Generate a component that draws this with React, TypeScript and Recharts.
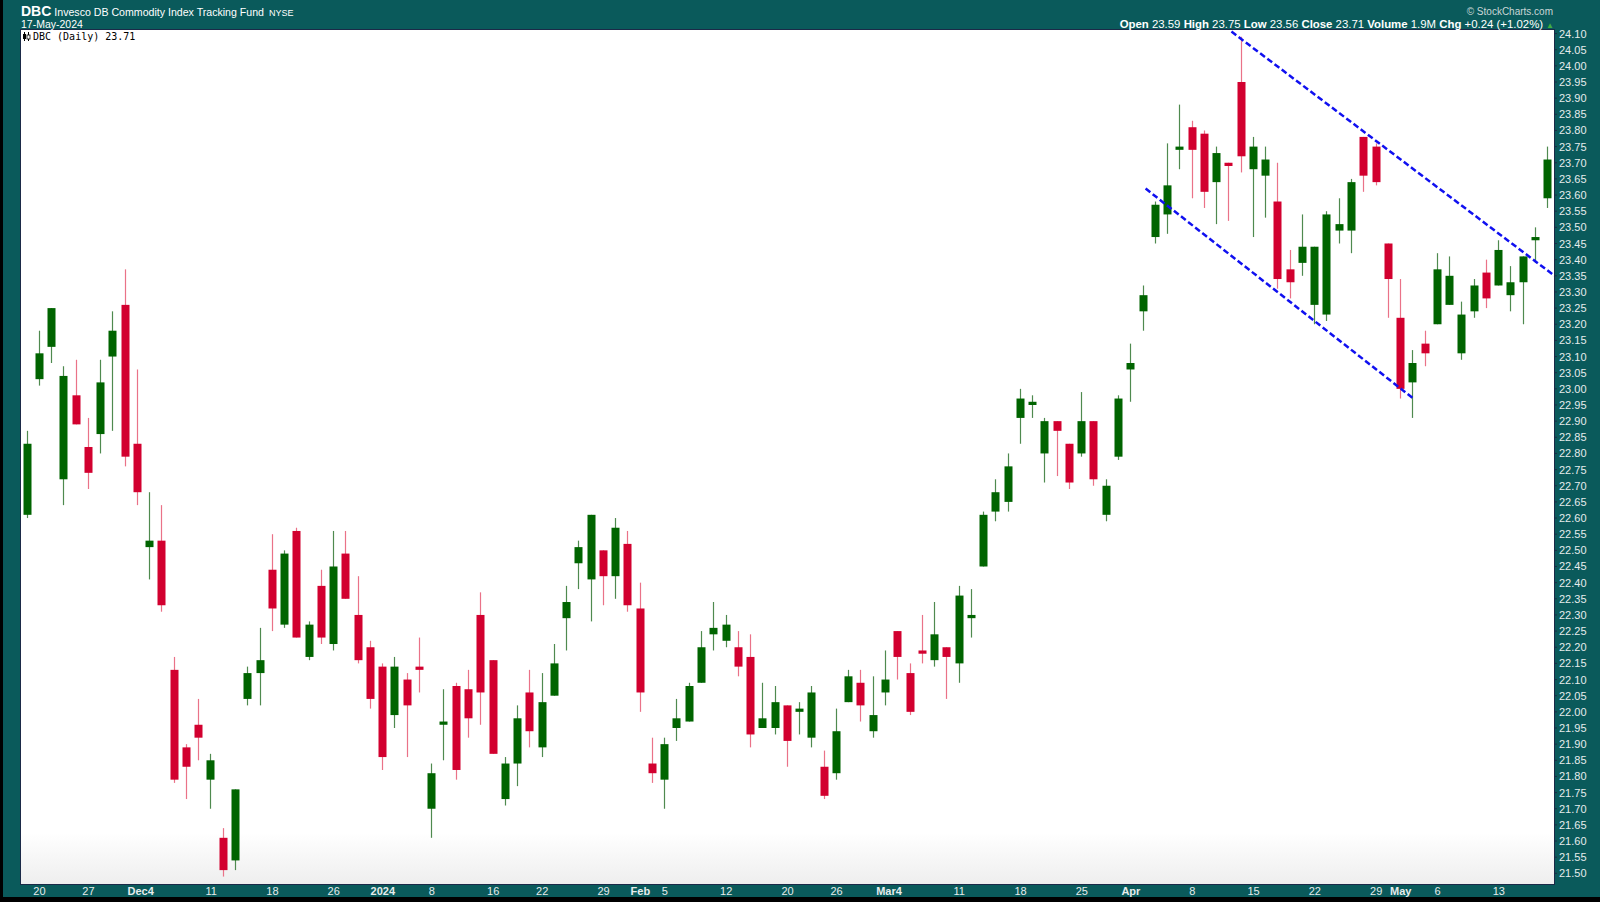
import React from "react";
import { Bar, ComposedChart, ReferenceLine, XAxis, YAxis } from "recharts";

// DBC daily candles, 17-Nov-2023 .. 17-May-2024
const DAYS = [
  "2023-11-17", "2023-11-20", "2023-11-21", "2023-11-22", "2023-11-24", "2023-11-27", "2023-11-28", "2023-11-29", "2023-11-30",
  "2023-12-01", "2023-12-04", "2023-12-05", "2023-12-06", "2023-12-07", "2023-12-08", "2023-12-11", "2023-12-12", "2023-12-13",
  "2023-12-14", "2023-12-15", "2023-12-18", "2023-12-19", "2023-12-20", "2023-12-21", "2023-12-22", "2023-12-26", "2023-12-27",
  "2023-12-28", "2023-12-29", "2024-01-02", "2024-01-03", "2024-01-04", "2024-01-05", "2024-01-08", "2024-01-09", "2024-01-10",
  "2024-01-11", "2024-01-12", "2024-01-16", "2024-01-17", "2024-01-18", "2024-01-19", "2024-01-22", "2024-01-23", "2024-01-24",
  "2024-01-25", "2024-01-26", "2024-01-29", "2024-01-30", "2024-01-31", "2024-02-01", "2024-02-02", "2024-02-05", "2024-02-06",
  "2024-02-07", "2024-02-08", "2024-02-09", "2024-02-12", "2024-02-13", "2024-02-14", "2024-02-15", "2024-02-16", "2024-02-20",
  "2024-02-21", "2024-02-22", "2024-02-23", "2024-02-26", "2024-02-27", "2024-02-28", "2024-02-29", "2024-03-01", "2024-03-04",
  "2024-03-05", "2024-03-06", "2024-03-07", "2024-03-08", "2024-03-11", "2024-03-12", "2024-03-13", "2024-03-14", "2024-03-15",
  "2024-03-18", "2024-03-19", "2024-03-20", "2024-03-21", "2024-03-22", "2024-03-25", "2024-03-26", "2024-03-27", "2024-03-28",
  "2024-04-01", "2024-04-02", "2024-04-03", "2024-04-04", "2024-04-05", "2024-04-08", "2024-04-09", "2024-04-10", "2024-04-11",
  "2024-04-12", "2024-04-15", "2024-04-16", "2024-04-17", "2024-04-18", "2024-04-19", "2024-04-22", "2024-04-23", "2024-04-24",
  "2024-04-25", "2024-04-26", "2024-04-29", "2024-04-30", "2024-05-01", "2024-05-02", "2024-05-03", "2024-05-06", "2024-05-07",
  "2024-05-08", "2024-05-09", "2024-05-10", "2024-05-13", "2024-05-14", "2024-05-15", "2024-05-16", "2024-05-17",
];

const OPEN = [
  22.61, 23.03, 23.13, 22.72, 22.98, 22.82, 22.86, 23.10, 23.26,
  22.83, 22.51, 22.53, 22.13, 21.89, 21.96, 21.79, 21.61, 21.54,
  22.04, 22.12, 22.44, 22.27, 22.56, 22.17, 22.39, 22.21, 22.49,
  22.30, 22.20, 22.14, 21.99, 22.10, 22.14, 21.70, 21.96, 22.08,
  22.07, 22.30, 22.16, 21.73, 21.84, 22.06, 21.89, 22.05, 22.29,
  22.46, 22.41, 22.50, 22.42, 22.52, 22.32, 21.84, 21.79, 21.95,
  21.97, 22.09, 22.24, 22.22, 22.20, 22.17, 21.95, 21.95, 22.02,
  22.00, 21.92, 21.83, 21.81, 22.03, 22.09, 21.94, 22.06, 22.25,
  22.12, 22.19, 22.16, 22.20, 22.15, 22.29, 22.45, 22.62, 22.65,
  22.91, 22.95, 22.80, 22.90, 22.83, 22.80, 22.90, 22.61, 22.79,
  23.06, 23.24, 23.47, 23.54, 23.74, 23.81, 23.79, 23.64, 23.70,
  23.95, 23.68, 23.66, 23.58, 23.37, 23.39, 23.26, 23.23, 23.49,
  23.49, 23.78, 23.75, 23.45, 23.22, 23.02, 23.14, 23.20, 23.26,
  23.11, 23.24, 23.36, 23.32, 23.29, 23.33, 23.46, 23.59,
];

const HIGH = [
  22.87, 23.18, 23.25, 23.07, 23.09, 22.91, 23.09, 23.24, 23.37,
  23.06, 22.68, 22.64, 22.17, 21.90, 22.04, 21.87, 21.64, 21.76,
  22.14, 22.26, 22.55, 22.50, 22.57, 22.28, 22.44, 22.56, 22.56,
  22.42, 22.22, 22.15, 22.17, 22.12, 22.23, 21.84, 22.07, 22.09,
  22.13, 22.37, 22.16, 21.86, 22.02, 22.13, 22.12, 22.21, 22.39,
  22.53, 22.61, 22.50, 22.60, 22.56, 22.40, 21.92, 21.92, 22.04,
  22.09, 22.25, 22.34, 22.30, 22.25, 22.24, 22.09, 22.08, 22.02,
  22.03, 22.08, 21.88, 22.01, 22.13, 22.13, 22.11, 22.19, 22.25,
  22.15, 22.30, 22.34, 22.20, 22.39, 22.38, 22.62, 22.72, 22.80,
  23.00, 22.98, 22.91, 22.90, 22.83, 22.99, 22.90, 22.72, 22.98,
  23.14, 23.32, 23.58, 23.76, 23.88, 23.83, 23.80, 23.75, 23.70,
  24.09, 23.78, 23.75, 23.70, 23.43, 23.54, 23.44, 23.55, 23.59,
  23.65, 23.78, 23.76, 23.45, 23.34, 23.12, 23.18, 23.42, 23.41,
  23.27, 23.34, 23.40, 23.46, 23.38, 23.41, 23.50, 23.75,
];

const LOW = [
  22.60, 23.01, 23.08, 22.64, 22.89, 22.69, 22.80, 22.87, 22.76,
  22.64, 22.41, 22.31, 21.78, 21.73, 21.85, 21.70, 21.49, 21.51,
  22.02, 22.02, 22.25, 22.26, 22.23, 22.16, 22.21, 22.19, 22.35,
  22.15, 22.01, 21.82, 21.95, 21.86, 22.06, 21.61, 21.85, 21.79,
  21.92, 21.96, 21.87, 21.71, 21.77, 21.89, 21.86, 22.05, 22.19,
  22.38, 22.28, 22.33, 22.35, 22.31, 22.00, 21.78, 21.70, 21.91,
  21.97, 22.09, 22.19, 22.20, 22.11, 21.89, 21.95, 21.93, 21.83,
  21.93, 21.89, 21.73, 21.79, 22.03, 21.97, 21.92, 22.02, 22.10,
  21.99, 22.15, 22.14, 22.04, 22.09, 22.23, 22.45, 22.59, 22.62,
  22.83, 22.91, 22.71, 22.73, 22.69, 22.79, 22.70, 22.59, 22.78,
  22.96, 23.18, 23.45, 23.48, 23.68, 23.59, 23.56, 23.51, 23.52,
  23.67, 23.47, 23.53, 23.31, 23.28, 23.35, 23.20, 23.21, 23.45,
  23.42, 23.61, 23.63, 23.22, 22.97, 22.91, 23.07, 23.20, 23.26,
  23.09, 23.22, 23.25, 23.32, 23.24, 23.20, 23.39, 23.56,
];

const CLOSE = [
  22.83, 23.11, 23.25, 23.04, 22.89, 22.74, 23.02, 23.18, 22.79,
  22.68, 22.53, 22.33, 21.79, 21.83, 21.92, 21.85, 21.51, 21.76,
  22.12, 22.16, 22.32, 22.49, 22.23, 22.27, 22.23, 22.45, 22.35,
  22.16, 22.04, 21.86, 22.14, 22.02, 22.13, 21.81, 21.97, 21.82,
  21.98, 22.06, 21.87, 21.84, 21.98, 21.94, 22.03, 22.15, 22.34,
  22.51, 22.61, 22.42, 22.57, 22.33, 22.06, 21.81, 21.90, 21.98,
  22.08, 22.20, 22.26, 22.27, 22.14, 21.93, 21.98, 22.03, 21.91,
  22.01, 22.06, 21.74, 21.94, 22.11, 22.02, 21.99, 22.10, 22.17,
  22.00, 22.18, 22.24, 22.17, 22.36, 22.30, 22.61, 22.68, 22.76,
  22.97, 22.96, 22.90, 22.87, 22.71, 22.90, 22.72, 22.70, 22.97,
  23.08, 23.29, 23.57, 23.63, 23.75, 23.74, 23.61, 23.73, 23.69,
  23.72, 23.75, 23.71, 23.34, 23.33, 23.44, 23.44, 23.54, 23.51,
  23.64, 23.66, 23.64, 23.34, 23.00, 23.08, 23.11, 23.37, 23.35,
  23.23, 23.32, 23.28, 23.43, 23.33, 23.41, 23.47, 23.71,
];

// bottom axis labels
const TICK_DAYS = [
  "2023-11-20", "2023-11-27", "2023-12-04", "2023-12-11", "2023-12-18", "2023-12-26", "2024-01-02", "2024-01-08",
  "2024-01-16", "2024-01-22", "2024-01-29", "2024-02-01", "2024-02-05", "2024-02-12", "2024-02-20", "2024-02-26",
  "2024-03-04", "2024-03-11", "2024-03-18", "2024-03-25", "2024-04-01", "2024-04-08", "2024-04-15", "2024-04-22",
  "2024-04-29", "2024-05-01", "2024-05-06", "2024-05-13",
];
const TICK_LABELS = [
  "20", "27", "Dec4", "11", "18", "26", "2024", "8",
  "16", "22", "29", "Feb", "5", "12", "20", "26",
  "Mar4", "11", "18", "25", "Apr", "8", "15", "22",
  "29", "May", "6", "13",
];
const BOLD_LABELS = ["Dec4", "2024", "Feb", "Mar4", "Apr", "May"];

const PRICE_TICKS = [
  21.5, 21.55, 21.6, 21.65, 21.7, 21.75, 21.8, 21.85, 21.9, 21.95,
  22.0, 22.05, 22.1, 22.15, 22.2, 22.25, 22.3, 22.35, 22.4, 22.45,
  22.5, 22.55, 22.6, 22.65, 22.7, 22.75, 22.8, 22.85, 22.9, 22.95,
  23.0, 23.05, 23.1, 23.15, 23.2, 23.25, 23.3, 23.35, 23.4, 23.45,
  23.5, 23.55, 23.6, 23.65, 23.7, 23.75, 23.8, 23.85, 23.9, 23.95,
  24.0, 24.05, 24.1,
];

// channel lines, [bar index, price]
const UPPER_CHANNEL = [
  { x: 98.2, y: 24.106 },
  { x: 125, y: 23.337 },
];
const LOWER_CHANNEL = [
  { x: 91.2, y: 23.62 },
  { x: 113.0, y: 22.971 },
];

const TEAL = "#0a5a5b";
const UP = "#006400";
const DOWN = "#d2002f";
const FONT = '"Liberation Sans", Arial, sans-serif';

const rows = DAYS.map((day, i) => ({
  i,
  day,
  open: OPEN[i],
  high: HIGH[i],
  low: LOW[i],
  close: CLOSE[i],
  range: [LOW[i], HIGH[i]],
}));

function Candle(props: any) {
  const { x, y, width, height, payload } = props;
  if (!payload || height == null) return null;
  const top = Math.min(y, y + height);
  const h = Math.abs(height);
  const span = payload.high - payload.low || 1;
  const toY = (p: number) => top + ((payload.high - p) / span) * h;
  const up = payload.close >= payload.open;
  const yo = toY(payload.open);
  const yc = toY(payload.close);
  const bodyH = Math.max(Math.abs(yc - yo), 2);
  const bodyTop = Math.min(yo, yc);
  const cx = Math.floor(x + width / 2) + 0.5;
  return (
    <g>
      <line x1={cx} x2={cx} y1={top} y2={top + h} stroke={up ? "#4f8a4f" : "#ea7288"} strokeWidth={1.2} />
      <rect x={cx - 4} y={bodyTop} width={8} height={bodyH} fill={up ? UP : DOWN} />
    </g>
  );
}

function DayTick(props: any) {
  const { x, y, payload } = props;
  const idx = TICK_DAYS.indexOf(payload.value);
  const label = TICK_LABELS[idx];
  const bold = BOLD_LABELS.includes(label);
  const combined = label === "Dec4" || label === "Mar4";
  return (
    <text
      x={combined ? x + 4 : x}
      y={y + 11}
      textAnchor={combined ? "end" : "middle"}
      fill="#e6ecec"
      fontSize={11}
      fontWeight={bold ? 700 : 400}
      fontFamily={FONT}
    >
      {label}
    </text>
  );
}

function PriceTick(props: any) {
  const { x, y, payload } = props;
  return (
    <text x={x} y={y + 4} textAnchor="start" fill="#e6ecec" fontSize={11} fontFamily={FONT}>
      {Number(payload.value).toFixed(2)}
    </text>
  );
}

export default function App() {
  return (
    <div style={{ position: "absolute", left: 0, top: 0, width: 1600, height: 902, background: "#000", overflow: "hidden", fontFamily: FONT }}>
      <div style={{ position: "absolute", left: 3, top: 0, width: 1597, height: 897, background: TEAL }} />
      <div
        style={{
          position: "absolute",
          left: 20,
          top: 29,
          width: 1533,
          height: 854,
          background: "linear-gradient(to bottom, #ffffff 0%, #ffffff 94%, #eeeeee 100%)",
          border: "1px solid #1b2a48",
        }}
      />

      {/* header */}
      <div style={{ position: "absolute", left: 21, top: 3, color: "#fff", whiteSpace: "nowrap", display: "flex", alignItems: "baseline" }}>
        <span style={{ fontSize: 14, fontWeight: 700 }}>DBC</span>
        <span style={{ fontSize: 10.6, marginLeft: 3 }}>Invesco DB Commodity Index Tracking Fund</span>
        <span style={{ fontSize: 9, marginLeft: 5 }}>NYSE</span>
      </div>
      <div style={{ position: "absolute", left: 21, top: 18, color: "#fff", fontSize: 10.5, whiteSpace: "nowrap" }}>17-May-2024</div>
      <div style={{ position: "absolute", right: 47, top: 6, color: "#c9d6d6", fontSize: 10, whiteSpace: "nowrap" }}>© StockCharts.com</div>
      <div style={{ position: "absolute", right: 46, top: 18, color: "#fff", fontSize: 11.4, whiteSpace: "nowrap" }}>
        <b>Open</b> 23.59 <b>High</b> 23.75 <b>Low</b> 23.56 <b>Close</b> 23.71 <b>Volume</b> 1.9M <b>Chg</b> +0.24 (+1.02%)
        <span style={{ color: "#3fae3f", fontSize: 8, marginLeft: 3 }}>▲</span>
      </div>

      <div style={{ position: "absolute", left: 0, top: 0 }}>
        <ComposedChart width={1600} height={902} data={rows} margin={{ top: 30, left: 21, right: 0, bottom: 0 }}>
          <XAxis
            xAxisId="c"
            dataKey="day"
            type="category"
            ticks={TICK_DAYS}
            interval={0}
            height={18}
            tick={<DayTick />}
            tickSize={0}
            tickMargin={0}
            tickLine={false}
            axisLine={false}
          />
          <XAxis xAxisId="n" dataKey="i" type="number" domain={[-0.5, 124.5]} allowDataOverflow hide />
          <YAxis
            orientation="right"
            width={46}
            domain={[21.467, 24.111]}
            allowDataOverflow
            ticks={PRICE_TICKS}
            interval={0}
            tick={<PriceTick />}
            tickSize={3}
            tickLine={{ stroke: "#1b2a48" }}
            axisLine={false}
          />
          <Bar xAxisId="c" dataKey="range" barSize={8} shape={<Candle />} isAnimationActive={false} />
          <ReferenceLine
            xAxisId="n"
            segment={UPPER_CHANNEL}
            stroke="#1010f0"
            strokeWidth={2.5}
            strokeDasharray="6 3"
            ifOverflow="hidden"
          />
          <ReferenceLine
            xAxisId="n"
            segment={LOWER_CHANNEL}
            stroke="#1010f0"
            strokeWidth={2.5}
            strokeDasharray="6 3"
            ifOverflow="hidden"
          />
        </ComposedChart>
      </div>

      {/* in-plot legend */}
      <div style={{ position: "absolute", left: 23, top: 31, display: "flex", alignItems: "center", whiteSpace: "nowrap" }}>
        <svg width={8} height={9} style={{ marginRight: 2 }}>
          <line x1={1.5} x2={1.5} y1={0} y2={9} stroke="#000" />
          <rect x={0} y={2} width={3} height={5} fill="#000" />
          <line x1={5.5} x2={5.5} y1={0} y2={9} stroke="#000" />
          <rect x={4} y={3} width={3} height={4} fill="#fff" stroke="#000" strokeWidth={0.8} />
        </svg>
        <span style={{ fontFamily: '"DejaVu Sans Mono", monospace', fontSize: 10, color: "#000" }}>DBC (Daily) 23.71</span>
      </div>
    </div>
  );
}
